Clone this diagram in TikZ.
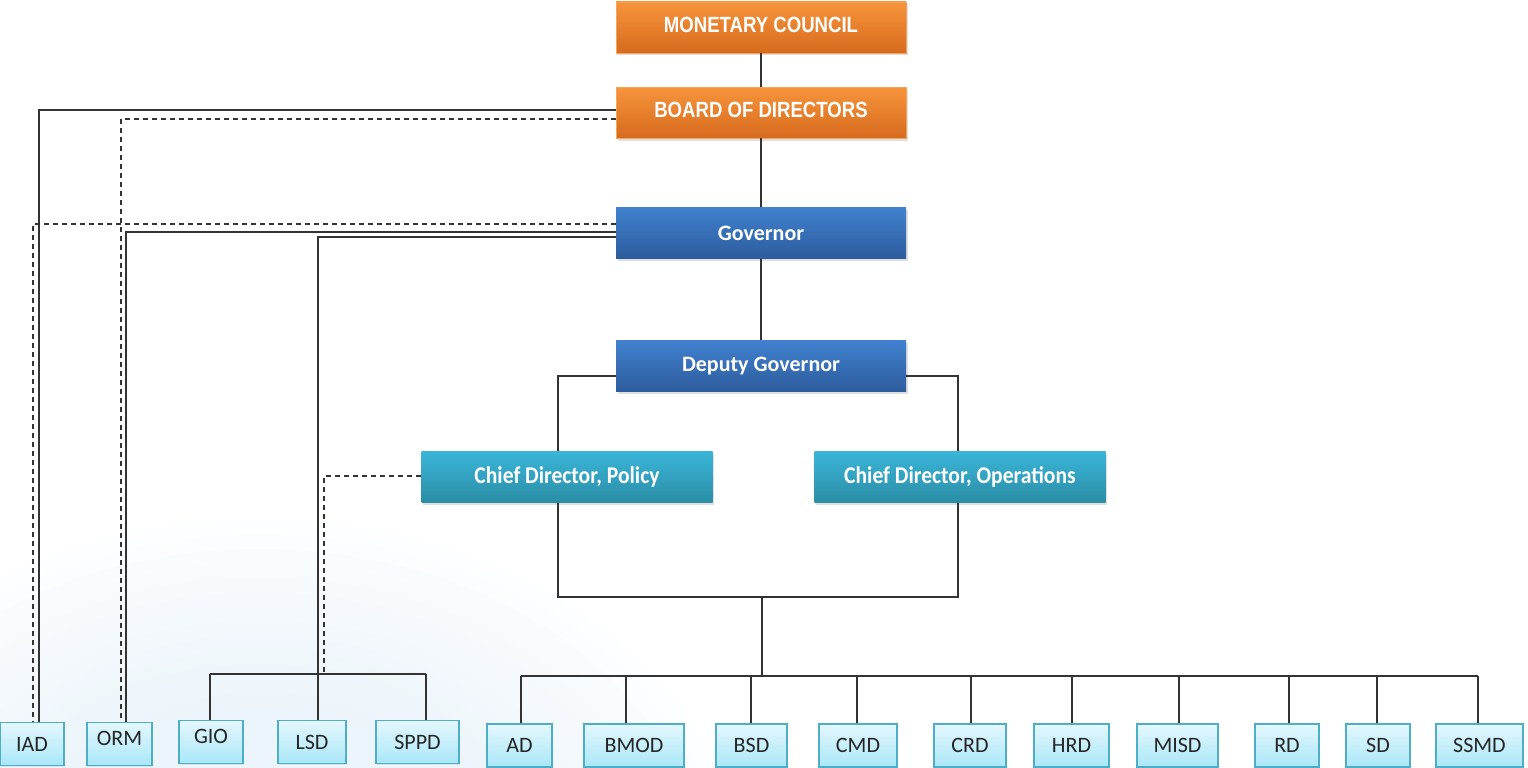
\documentclass[tikz,border=0pt]{standalone}
\usepackage{fontspec}
\setmainfont{Carlito}
\newfontfamily\narrowfont[FakeStretch=0.845]{Liberation Sans}
\newfontfamily\condfont[FakeStretch=0.9]{Carlito}
\usetikzlibrary{shadows}

\definecolor{orangetop}{HTML}{F7943B}
\definecolor{orangebot}{HTML}{D66B1E}
\definecolor{orangeedge}{HTML}{F5A55A}
\definecolor{bluetop}{HTML}{4181D0}
\definecolor{bluebot}{HTML}{2D5C9C}
\definecolor{tealtop}{HTML}{3AB5D8}
\definecolor{tealbot}{HTML}{2B8DA5}
\definecolor{depttop}{HTML}{E4F7FD}
\definecolor{deptbot}{HTML}{A9E7F8}
\definecolor{deptedge}{HTML}{4EADC8}
\definecolor{depttext}{HTML}{262626}
\definecolor{linegray}{HTML}{333333}
\definecolor{glow}{HTML}{E2EFF8}

\begin{document}
\begin{tikzpicture}[
      x=1pt, y=-1pt,
      box/.style={rectangle, minimum height=51pt, inner sep=0pt, text=white,
        drop shadow={shadow xshift=1.5pt, shadow yshift=-2.5pt, opacity=0.25}},
      board/.style={box, minimum width=290pt, top color=orangetop, bottom color=orangebot,
        draw=orangeedge, line width=0.8pt, font=\narrowfont\bfseries\fontsize{22}{26}\selectfont},
      exec/.style={box, minimum width=290pt, top color=bluetop, bottom color=bluebot,
        font=\bfseries\fontsize{22}{26}\selectfont},
      chief/.style={box, minimum width=291pt, top color=tealtop, bottom color=tealbot,
        font=\condfont\bfseries\fontsize{24}{28}\selectfont},
      dept/.style={rectangle, minimum height=43pt, inner sep=0pt, top color=depttop,
        bottom color=deptbot, draw=deptedge, line width=1.4pt, text=depttext,
        font=\fontsize{22}{26}\selectfont,
        drop shadow={shadow xshift=1pt, shadow yshift=-1.5pt, opacity=0.15}},
      raised/.style={text depth=11pt},
      lifted/.style={text depth=5pt},
      link/.style={draw=linegray, line width=1.3pt},
      dashlink/.style={link, dash pattern=on 5pt off 4pt}
  ]

  \useasboundingbox (0,0) rectangle (1528,768);

  % faint glow in the lower left
  \begin{scope}
    \clip (0,0) rectangle (1528,768);
    \foreach \s in {1.0,0.96,...,0.45}
      \fill[glow, opacity=0.07] (260,880) ellipse ({480*\s} and {360*\s});
  \end{scope}

  % Management boxes
  \node[board, lifted] (mc) at (761,27.5) {MONETARY COUNCIL};
  \node[board, lifted] (bod) at (761,112.5) {BOARD OF DIRECTORS};
  \node[exec] (gov) at (761,233) {Governor};
  \node[exec] (dg) at (761,366) {Deputy Governor};
  \node[chief] (cdp) at (567,477) {Chief Director, Policy};
  \node[chief] (cdo) at (960,477) {Chief Director, Operations};

  % Departments
  \node[dept, minimum width=64pt] (iad) at (32,744) {IAD};
  \node[dept, raised, minimum width=65pt] (orm) at (119.5,744) {ORM};
  \node[dept, raised, minimum width=64pt] (gio) at (211,742) {GIO};
  \node[dept, minimum width=68pt] (lsd) at (312,742) {LSD};
  \node[dept, minimum width=83pt] (sppd) at (417.5,742) {SPPD};
  \node[dept, minimum width=65pt] (ad) at (519.5,745.5) {AD};
  \node[dept, minimum width=100pt] (bmod) at (634,745.5) {BMOD};
  \node[dept, minimum width=71pt] (bsd) at (751.5,745.5) {BSD};
  \node[dept, minimum width=78pt] (cmd) at (858,745.5) {CMD};
  \node[dept, minimum width=72pt] (crd) at (970,745.5) {CRD};
  \node[dept, minimum width=75pt] (hrd) at (1071.5,745.5) {HRD};
  \node[dept, minimum width=81pt] (misd) at (1177.5,745.5) {MISD};
  \node[dept, minimum width=64pt] (rd) at (1287,745.5) {RD};
  \node[dept, minimum width=64pt] (sd) at (1378,745.5) {SD};
  \node[dept, minimum width=87pt] (ssmd) at (1479.5,745.5) {SSMD};

  % Main line of command
  \draw[link] (mc) -- (bod);
  \draw[link] (bod) -- (gov);
  \draw[link] (gov) -- (dg);
  \draw[link] (dg.west |- 0,376) -| (cdp.north -| 558,0);
  \draw[link] (dg.east |- 0,376) -| (cdo.north -| 958,0);

  \coordinate (join) at (762,597);
  \coordinate (hub) at (762,676);
  \draw[link] (cdp.south -| 558,0) |- (join) -| (cdo.south -| 958,0);
  \draw[link] (join) -- (hub);
  \draw[link] (hub -| 521,0) -- (hub -| 1478,0);

  % Drops to the departments
  \draw[link] (ad.north -| 521,0) -- (hub -| 521,0);
  \draw[link] (bmod.north -| 626,0) -- (hub -| 626,0);
  \draw[link] (bsd.north -| 751,0) -- (hub -| 751,0);
  \draw[link] (cmd.north -| 857,0) -- (hub -| 857,0);
  \draw[link] (crd.north -| 971,0) -- (hub -| 971,0);
  \draw[link] (hrd.north -| 1072,0) -- (hub -| 1072,0);
  \draw[link] (misd.north -| 1179,0) -- (hub -| 1179,0);
  \draw[link] (rd.north -| 1289,0) -- (hub -| 1289,0);
  \draw[link] (sd.north -| 1377,0) -- (hub -| 1377,0);
  \draw[link] (ssmd.north -| 1478,0) -- (hub -| 1478,0);

  % Lines on the left side
  \draw[link] (bod.west |- 0,110) -| (iad.north -| 39,0);
  \draw[dashlink] (gov.west |- 0,224) -| (iad.north -| 33,0);
  \draw[dashlink] (bod.west |- 0,119) -| (orm.north -| 121,0);
  \draw[link] (gov.west |- 0,232) -| (orm.north -| 126,0);
  \draw[link] (gov.west |- 0,237) -| (lsd.north -| 318,0);

  \coordinate (lhub) at (318,674);
  \draw[link] (lhub -| 210,0) -- (lhub -| 426,0);
  \draw[link] (gio.north -| 210,0) -- (lhub -| 210,0);
  \draw[link] (sppd.north -| 426,0) -- (lhub -| 426,0);
  \draw[dashlink] (cdp.west |- 0,476) -| (lhub -| 324,0);

\end{tikzpicture}
\end{document}
